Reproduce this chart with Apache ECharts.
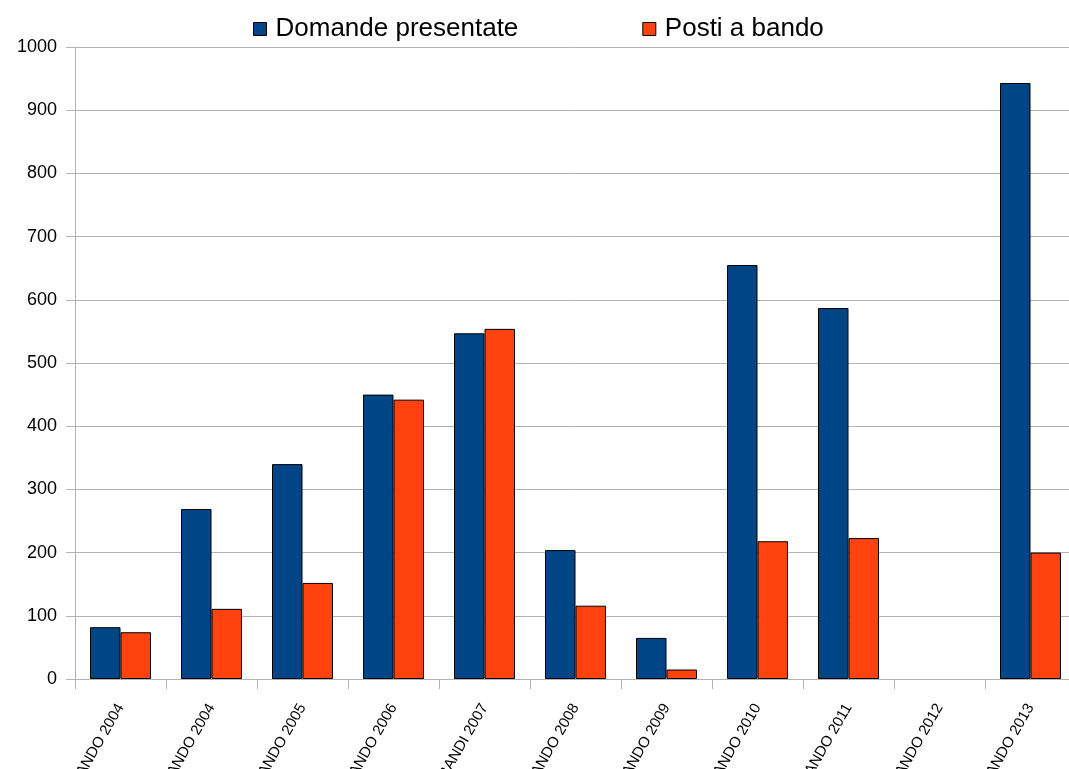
<!DOCTYPE html>
<html>
<head>
<meta charset="utf-8">
<script src="https://cdn.jsdelivr.net/npm/echarts@6/dist/echarts.min.js"></script>
<style>
html,body{margin:0;padding:0;background:#fff;overflow:hidden;}
#c{width:1069px;height:769px;}
</style>
</head>
<body>
<div id="c"></div>
<script>
const categories = ["BANDO 2004","BANDO 2004","BANDO 2005","BANDO 2006","BANDI 2007","BANDO 2008","BANDO 2009","BANDO 2010","BANDO 2011","BANDO 2012","BANDO 2013"];
const domandePresentate = [82, 269, 340, 450, 547, 204, 65, 655, 587, null, 943];
const postiABando = [74, 111, 152, 442, 554, 116, 15, 218, 223, null, 200];
const yTicks = {min: 0, max: 1000, interval: 100};

const chart = echarts.init(document.getElementById('c'), null, {renderer: 'canvas'});
chart.setOption({
  animation: false,
  backgroundColor: '#ffffff',
  textStyle: {fontFamily: 'Liberation Sans, Arial, sans-serif'},
  legend: {
    top: 11,
    left: 248,
    itemWidth: 13,
    itemHeight: 13,
    itemGap: 124,
    icon: 'rect',
    itemStyle: {borderColor: '#000', borderWidth: 1},
    textStyle: {fontSize: 26, color: '#000', fontFamily: 'Liberation Sans', padding: [0, 0, 0, 4]},
    data: ['Domande presentate', 'Posti a bando']
  },
  grid: {left: 75, top: 47, width: 1001, height: 632, containLabel: false, outerBoundsMode: 'none'},
  xAxis: {
    type: 'category',
    data: categories,
    boundaryGap: true,
    axisLine: {show: true, lineStyle: {color: '#b3b3b3', width: 1}},
    axisTick: {show: true, alignWithLabel: false, length: 10, lineStyle: {color: '#b3b3b3'}},
    axisLabel: {rotate: 60, fontSize: 15, color: '#000', margin: 26, interval: 0, fontFamily: 'Liberation Sans'}
  },
  yAxis: {
    type: 'value',
    min: yTicks.min,
    max: yTicks.max,
    interval: yTicks.interval,
    axisLine: {show: true, lineStyle: {color: '#b3b3b3', width: 1}},
    axisTick: {show: true, length: 9, lineStyle: {color: '#b3b3b3'}},
    axisLabel: {fontSize: 18, color: '#000', margin: 18, fontFamily: 'Liberation Sans', formatter: function (v) { return String(v); }},
    splitLine: {show: true, lineStyle: {color: '#b3b3b3', width: 1}}
  },
  series: [
    {
      name: 'Domande presentate',
      type: 'bar',
      data: domandePresentate,
      barGap: '0%',
      barCategoryGap: '33%',
      itemStyle: {color: '#004586', borderColor: '#000', borderWidth: 1}
    },
    {
      name: 'Posti a bando',
      type: 'bar',
      data: postiABando,
      barGap: '0%',
      barCategoryGap: '33%',
      itemStyle: {color: '#ff420e', borderColor: '#000', borderWidth: 1}
    }
  ]
});
</script>
</body>
</html>
